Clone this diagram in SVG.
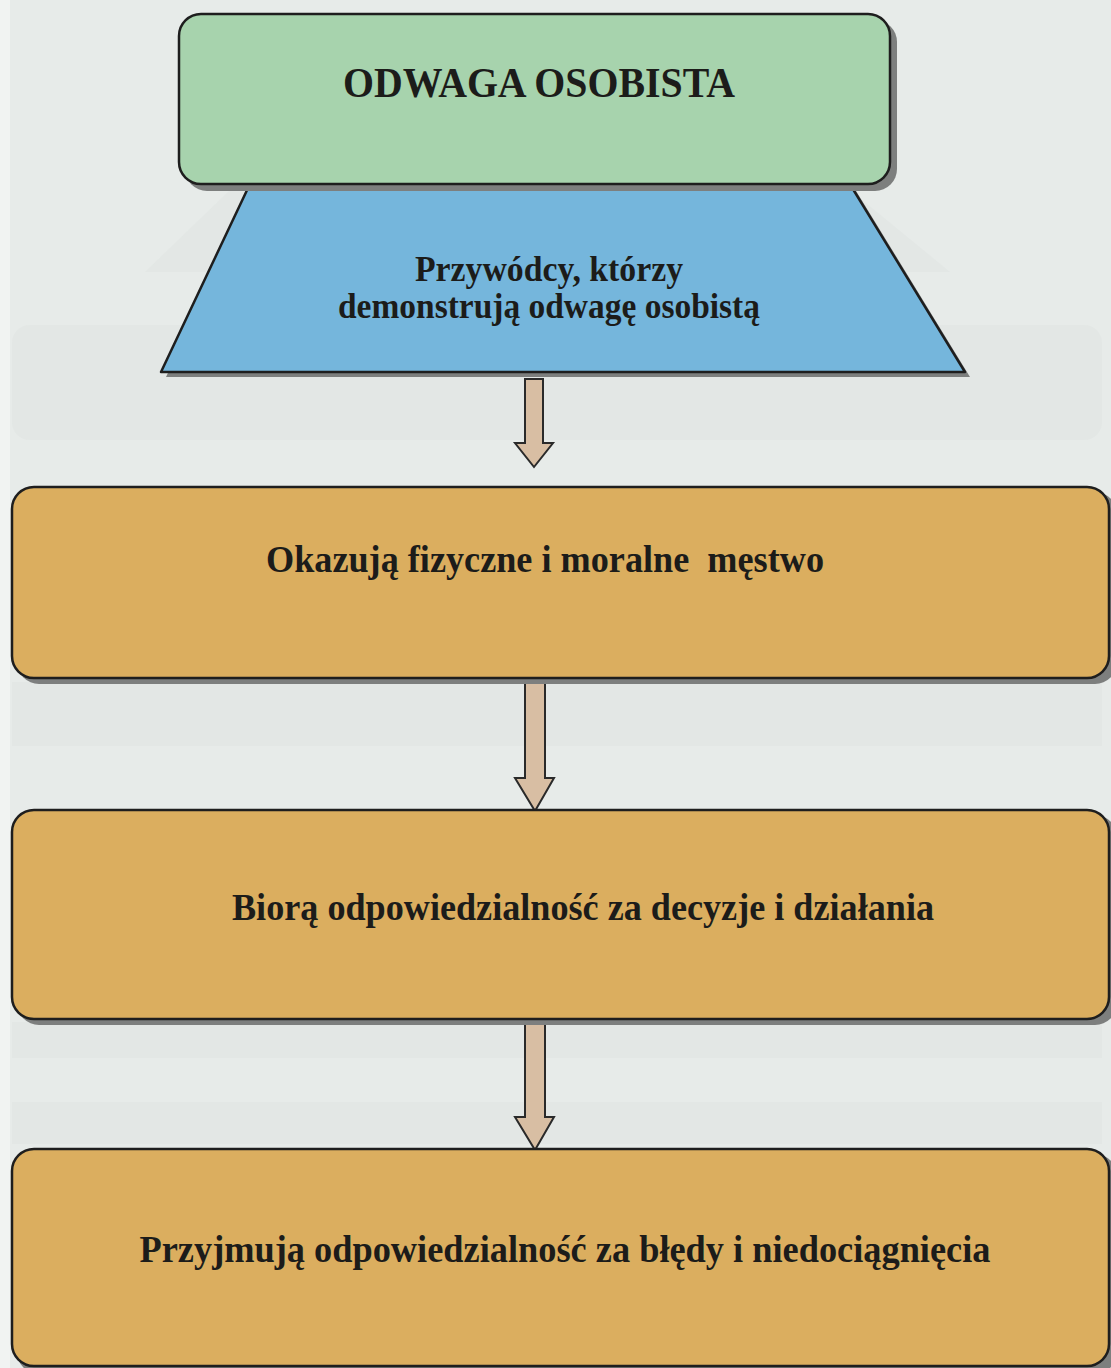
<svg xmlns="http://www.w3.org/2000/svg" width="1111" height="1368" viewBox="0 0 1111 1368">
  <style>
    .bg { fill: #e7ebe9; }
    .ghost { fill: #dde2e0; opacity: 0.45; }
    .shadow { fill: #7d7f7e; }
    .outline { stroke: #1e1e1e; stroke-width: 2.5; stroke-linejoin: round; }
    .green { fill: #a7d3ad; }
    .blue { fill: #75b6dc; }
    .gold { fill: #dbae5f; }
    .arrow { fill: #d8bea3; stroke: #2a2a2a; stroke-width: 2; stroke-linejoin: miter; }
    .t { font-family: "Liberation Serif", "Times New Roman", Times, serif; font-weight: 700; fill: #1c1c1a; text-anchor: middle; }
  </style>
  <rect class="bg" x="0" y="0" width="1111" height="1368"/>
  <rect x="0" y="0" width="10" height="1368" fill="#f1f3f2"/>
  <g id="background-ghosts">
    <polygon class="ghost" points="230,190 850,190 950,272 145,272"/>
    <rect class="ghost" x="12" y="325" width="1090" height="115" rx="18"/>
    <rect class="ghost" x="12" y="682" width="1090" height="64"/>
    <rect class="ghost" x="12" y="1022" width="1090" height="36"/>
    <rect class="ghost" x="12" y="1102" width="1090" height="42"/>
  </g>

  <g id="connectors">
    <path class="arrow" d="M525,379 L543,379 L543,443 L553,443 L534,467 L515,443 L525,443 Z"/>
    <path class="arrow" d="M525,682 L545,682 L545,778 L554,778 L535,811 L515,778 L525,778 Z"/>
    <path class="arrow" d="M525,1021 L545,1021 L545,1117 L554,1117 L535,1150 L515,1117 L525,1117 Z"/>
  </g>

  <g id="node-trapezoid">
    <polygon class="shadow" points="271,155 834,155 970,377 166,377"/>
    <polygon class="blue outline" points="266,150 829,150 965,372 161,372"/>
    <text class="t" x="549" y="281" font-size="35" textLength="268" lengthAdjust="spacingAndGlyphs">Przywódcy, którzy</text>
    <text class="t" x="549" y="318" font-size="35" textLength="422" lengthAdjust="spacingAndGlyphs">demonstrują odwagę osobistą</text>
  </g>

  <g id="node-title">
    <rect class="shadow" x="185" y="20" width="712" height="171" rx="22"/>
    <rect class="green outline" x="179" y="14" width="711" height="170" rx="22"/>
    <text class="t" x="539" y="97" font-size="42" textLength="392" lengthAdjust="spacingAndGlyphs">ODWAGA OSOBISTA</text>
  </g>

  <g id="node-1">
    <rect class="shadow" x="17" y="492" width="1100" height="192" rx="22"/>
    <rect class="gold outline" x="12" y="487" width="1097" height="191" rx="22"/>
    <text class="t" x="545" y="572" font-size="37" textLength="558" lengthAdjust="spacingAndGlyphs" xml:space="preserve">Okazują fizyczne i moralne  męstwo</text>
  </g>

  <g id="node-2">
    <rect class="shadow" x="17" y="815" width="1100" height="210" rx="22"/>
    <rect class="gold outline" x="12" y="810" width="1097" height="209" rx="22"/>
    <text class="t" x="583" y="920" font-size="37" textLength="702" lengthAdjust="spacingAndGlyphs">Biorą odpowiedzialność za decyzje i działania</text>
  </g>

  <g id="node-3">
    <rect class="shadow" x="17" y="1154" width="1100" height="220" rx="22"/>
    <rect class="gold outline" x="12" y="1149" width="1097" height="217" rx="22"/>
    <text class="t" x="565" y="1262" font-size="37" textLength="851" lengthAdjust="spacingAndGlyphs">Przyjmują odpowiedzialność za błędy i niedociągnięcia</text>
  </g>
</svg>
